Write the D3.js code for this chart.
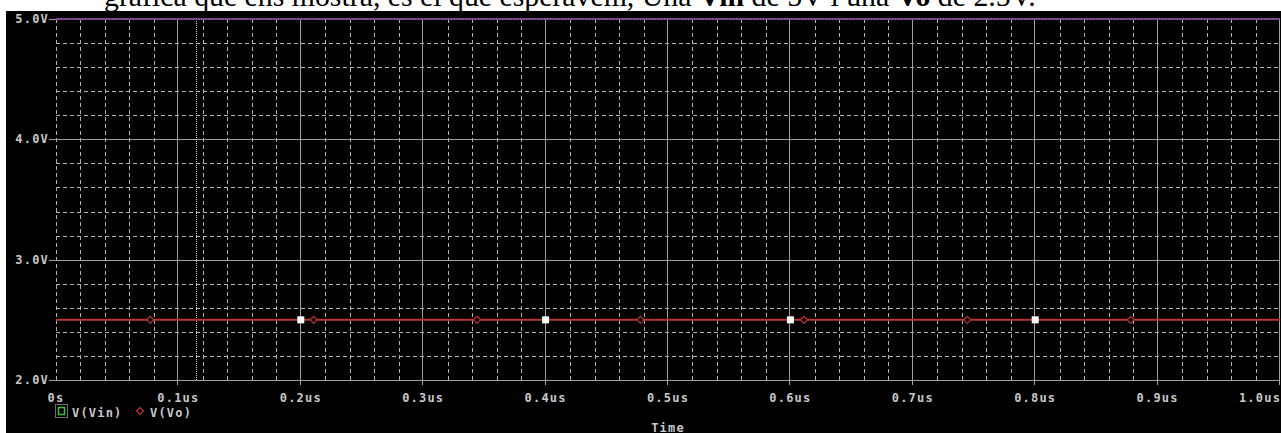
<!DOCTYPE html>
<html>
<head>
<meta charset="utf-8">
<script src="https://cdn.jsdelivr.net/npm/d3@7"></script>
<style>
  html, body { margin: 0; padding: 0; background: #ffffff; overflow: hidden; }
  svg { display: block; }
</style>
</head>
<body>
<svg id="chart" width="1281" height="433"></svg>
<script>
// Time axis (microseconds) and voltage axis
const timeTicks = [0, 0.1, 0.2, 0.3, 0.4, 0.5, 0.6, 0.7, 0.8, 0.9, 1.0];
const timeLabels = ["0s", "0.1us", "0.2us", "0.3us", "0.4us", "0.5us", "0.6us", "0.7us", "0.8us", "0.9us", "1.0us"];
const voltTicks = [5, 4, 3, 2];
const voltLabels = ["5.0V", "4.0V", "3.0V", "2.0V"];

// Traces
const vinTime = [0, 1.0];
const vinValue = [5, 5];
const voTime = [0, 1.0];
const voValue = [2.5, 2.5];

// Trace symbols
const voMarkerTimes = [0.077, 0.2105, 0.344, 0.4775, 0.611, 0.7445, 0.878];
const vinMarkerTimes = [0.2, 0.4, 0.6, 0.8];
const vinMarkerValue = 2.5;

// Cursor position (us)
const cursorTime = 0.1144;

const legendNames = ["V(Vin)", "V(Vo)"];
const headerText = ["gràfica que ens mostra, es el que esperàvem, Una ", "Vin", " de 5V i una ", "Vo", " de 2.5V."];

const svg = d3.select("#chart");
const W = 1281, H = 433;

const x = d3.scaleLinear().domain([0, 1]).range([56, 1280]);
const y = d3.scaleLinear().domain([2, 5]).range([380, 19]);

const textColor = "#c8c8c8";
const majorColor = "#a0a0a0";
const minorColor = "#b4b4b4";
const monoFont = "'DejaVu Sans Mono', monospace";
const monoSize = 12;
const monoSpacing = 1.2;

// Document text line above the screenshot
const header = svg.append("text")
  .attr("x", 104).attr("y", 6)
  .attr("font-family", "'Liberation Serif', 'Times New Roman', serif")
  .attr("font-size", 29.8)
  .attr("fill", "#000");
headerText.forEach((t, i) => {
  header.append("tspan").text(t).attr("font-weight", (i === 1 || i === 3) ? "bold" : "normal");
});

// Probe window background
svg.append("rect").attr("x", 6).attr("y", 11).attr("width", W - 6).attr("height", H - 11).attr("fill", "#000");

const g = svg.append("g");

// Minor grid (dashed)
const minorT = d3.range(0, 51).map(i => i / 50).filter((t, i) => i % 5 !== 0 || i === 0);
g.selectAll(".minor-v").data(minorT).join("line")
  .attr("x1", d => Math.round(x(d)) + 0.5).attr("x2", d => Math.round(x(d)) + 0.5)
  .attr("y1", y(5)).attr("y2", y(2))
  .attr("stroke", minorColor).attr("stroke-width", 1).attr("stroke-dasharray", "4,3");

const minorV = d3.range(0, 16).map(i => 2 + i * 0.2).filter((v, i) => i % 5 !== 0);
g.selectAll(".minor-h").data(minorV).join("line")
  .attr("x1", x(0)).attr("x2", x(1))
  .attr("y1", d => Math.round(y(d)) + 0.5).attr("y2", d => Math.round(y(d)) + 0.5)
  .attr("stroke", minorColor).attr("stroke-width", 1).attr("stroke-dasharray", "4,3");

// Major grid (solid)
g.selectAll(".major-v").data(timeTicks.slice(1)).join("line")
  .attr("x1", d => Math.round(x(d)) - 0.5).attr("x2", d => Math.round(x(d)) - 0.5)
  .attr("y1", y(5)).attr("y2", y(2) + 5)
  .attr("stroke", majorColor).attr("stroke-width", 1);

g.selectAll(".major-h").data(voltTicks.filter(v => v !== 5)).join("line")
  .attr("x1", x(0) - 7).attr("x2", x(1))
  .attr("y1", d => Math.round(y(d)) + 0.5).attr("y2", d => Math.round(y(d)) + 0.5)
  .attr("stroke", majorColor).attr("stroke-width", 1);
g.append("line")
  .attr("x1", x(0) - 7).attr("x2", x(0))
  .attr("y1", Math.round(y(5)) + 0.5).attr("y2", Math.round(y(5)) + 0.5)
  .attr("stroke", majorColor);

// Cursor (dotted)
g.append("line")
  .attr("x1", Math.round(x(cursorTime)) + 0.5).attr("x2", Math.round(x(cursorTime)) + 0.5)
  .attr("y1", y(5)).attr("y2", y(2))
  .attr("stroke", "#e0e0e0").attr("stroke-width", 1).attr("stroke-dasharray", "1,1");

// Axis labels
const mono = sel => sel
  .attr("font-family", monoFont).attr("font-size", monoSize).attr("font-weight", "bold")
  .attr("letter-spacing", monoSpacing).attr("fill", textColor);

g.selectAll(".ylab").data(voltTicks).join("text")
  .attr("x", 49).attr("y", d => y(d) + 4)
  .attr("text-anchor", "end")
  .call(mono)
  .text((d, i) => voltLabels[i]);

g.selectAll(".xlab").data(timeTicks).join("text")
  .attr("x", (d, i) => i === timeTicks.length - 1 ? 1260 : x(d))
  .attr("y", 402)
  .attr("text-anchor", "middle")
  .call(mono)
  .text((d, i) => timeLabels[i]);

g.append("text")
  .attr("x", (x(0) + x(1)) / 2).attr("y", 431.5)
  .attr("text-anchor", "middle")
  .call(mono)
  .text("Time");

// Traces
const line = d3.line().x(d => x(d[0])).y(d => y(d[1]));

g.append("path")
  .datum(vinTime.map((t, i) => [t, vinValue[i]]))
  .attr("d", line).attr("fill", "none")
  .attr("stroke", "#2f9a3a").attr("stroke-width", 2);
g.append("path")
  .datum(vinTime.map((t, i) => [t, vinValue[i]]))
  .attr("d", line).attr("fill", "none")
  .attr("stroke", "#a020b0").attr("stroke-width", 2).attr("stroke-dasharray", "2,1");

g.append("path")
  .datum(voTime.map((t, i) => [t, voValue[i]]))
  .attr("d", line).attr("fill", "none")
  .attr("stroke", "#b83434").attr("stroke-width", 2);

// Trace symbols
const diamond = (cx, cy, r) => `M${cx},${cy - r}L${cx + r},${cy}L${cx},${cy + r}L${cx - r},${cy}Z`;
g.selectAll(".vo-mark").data(voMarkerTimes).join("path")
  .attr("d", d => diamond(x(d), y(voValue[0]), 3.5))
  .attr("fill", "#000").attr("stroke", "#c03434").attr("stroke-width", 1.2);

g.selectAll(".vin-mark").data(vinMarkerTimes).join("rect")
  .attr("x", d => x(d) - 3.5).attr("y", y(vinMarkerValue) - 3.5)
  .attr("width", 7).attr("height", 7)
  .attr("fill", "#ffffff");

// Legend
const legY = 417;
g.append("rect").attr("x", 55.5).attr("y", 404.5).attr("width", 12).attr("height", 13)
  .attr("fill", "none").attr("stroke", "#e0e0e0").attr("stroke-dasharray", "1,1");
g.append("rect").attr("x", 58.5).attr("y", 407.5).attr("width", 6).attr("height", 7)
  .attr("fill", "none").attr("stroke", "#38c038").attr("stroke-width", 1.5);
g.append("text").attr("x", 72).attr("y", legY).call(mono).text(legendNames[0]);
g.append("path").attr("d", diamond(140, 411, 3.5))
  .attr("fill", "none").attr("stroke", "#c03434").attr("stroke-width", 1.2);
g.append("text").attr("x", 150).attr("y", legY).call(mono).text(legendNames[1]);
</script>
</body>
</html>
